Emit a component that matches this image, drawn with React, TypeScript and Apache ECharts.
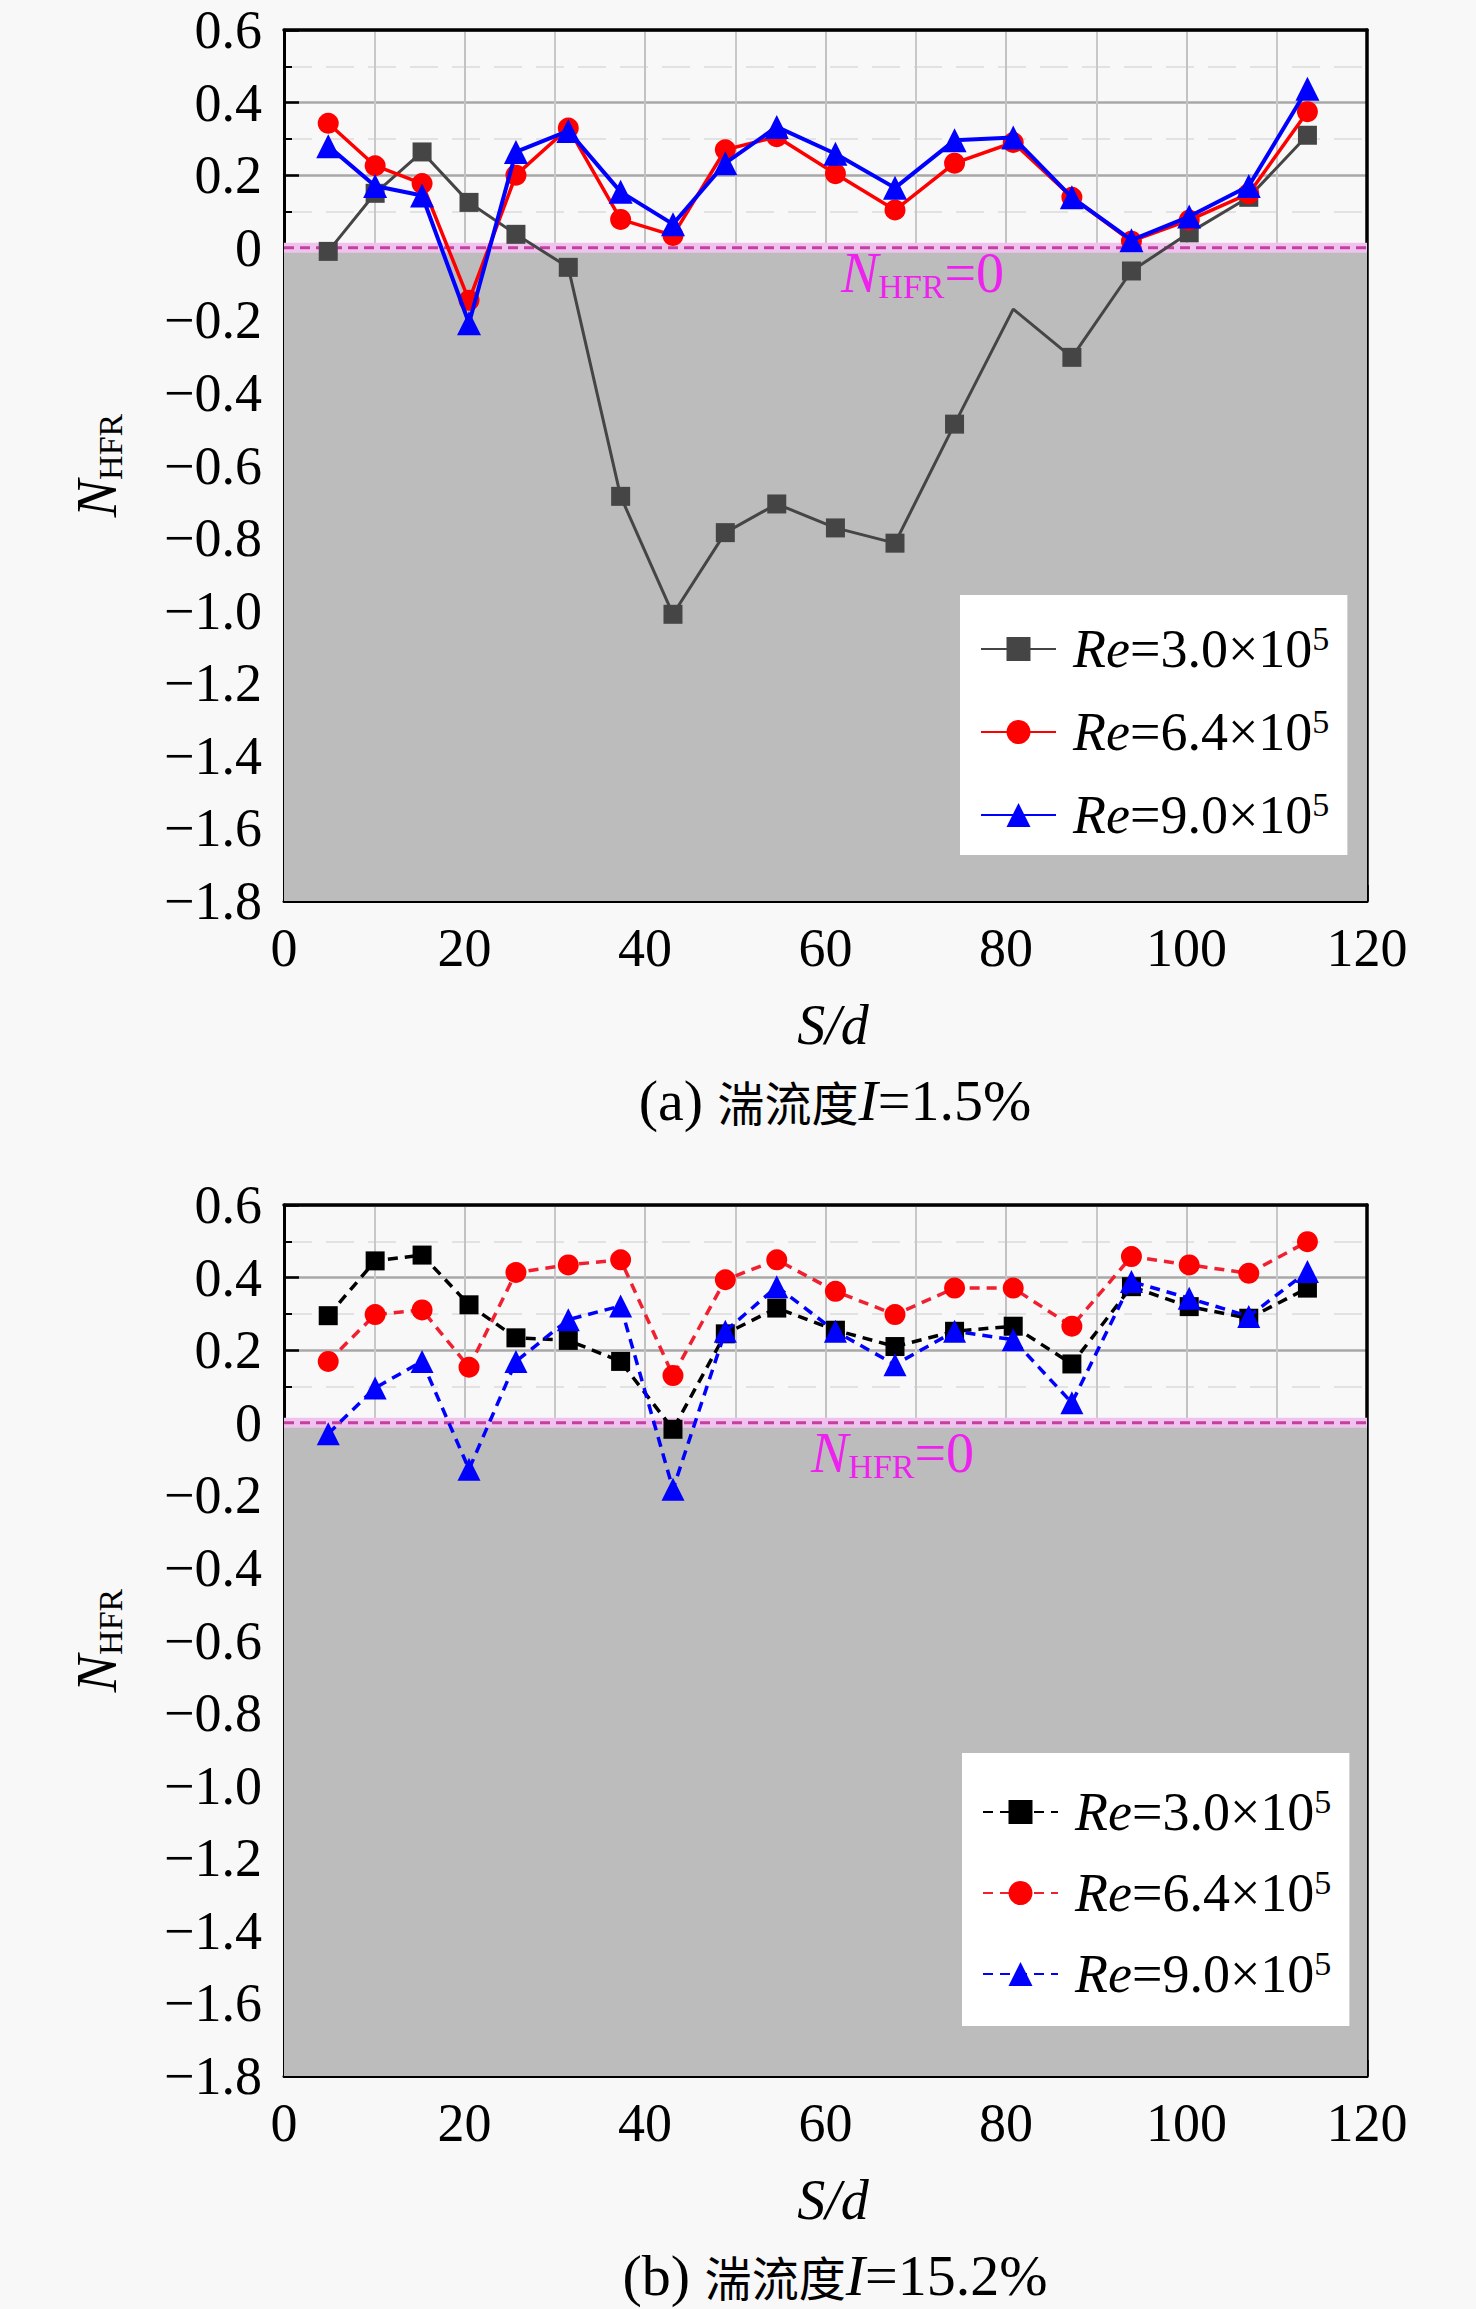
import React, { useEffect, useRef } from 'react';
import * as echarts from 'echarts';

// S/d positions of the measuring points
const xPos = [4.9, 10.1, 15.3, 20.5, 25.7, 31.5, 37.3, 43.1, 48.9, 54.6, 61.1, 67.7, 74.3, 80.8, 87.3, 93.9, 100.3, 106.9, 113.4];

// (a) I = 1.5%
const aRe30 = [-0.01, 0.15, 0.264, 0.125, 0.037, -0.054, -0.685, -1.01, -0.785, -0.706, -0.772, -0.814, -0.486, -0.169, -0.302, -0.064, 0.041, 0.139, 0.31];
const aRe64 = [0.343, 0.226, 0.177, -0.145, 0.2, 0.33, 0.078, 0.034, 0.27, 0.306, 0.204, 0.104, 0.233, 0.29, 0.139, 0.018, 0.076, 0.149, 0.375];
const aRe90 = [0.28, 0.17, 0.144, -0.208, 0.264, 0.322, 0.154, 0.065, 0.233, 0.333, 0.259, 0.165, 0.296, 0.304, 0.139, 0.021, 0.086, 0.17, 0.438];

// (b) I = 15.2%
const bRe30 = [0.295, 0.446, 0.462, 0.325, 0.234, 0.227, 0.169, -0.018, 0.245, 0.316, 0.255, 0.21, 0.252, 0.266, 0.162, 0.375, 0.32, 0.288, 0.371];
const bRe64 = [0.169, 0.298, 0.311, 0.153, 0.414, 0.435, 0.449, 0.13, 0.394, 0.449, 0.362, 0.298, 0.371, 0.371, 0.266, 0.458, 0.435, 0.412, 0.499];
const bRe90 = [-0.03, 0.096, 0.169, -0.128, 0.169, 0.284, 0.322, -0.183, 0.252, 0.375, 0.252, 0.16, 0.252, 0.229, 0.055, 0.389, 0.343, 0.293, 0.417];

const reLabels = ['3.0', '6.4', '9.0'];
const captions = ['(a) 湍流度', '(b) 湍流度'];
const intensities = ['1.5%', '15.2%'];

const X_MIN = 0;
const X_MAX = 120;
const X_STEP = 20;
const Y_MIN = -1.8;
const Y_MAX = 0.6;
const Y_STEP = 0.2;

const FONT = "'Liberation Serif', 'Times New Roman', 'Noto Sans CJK SC', serif";
const CJK = "'Noto Sans CJK SC', sans-serif";

const GRID_LEFT = 284;
const GRID_W = 1083;
const GRID_H = 871;
const GRID_TOPS = [30, 1205];

function yFmt(v: number): string {
  if (Math.abs(v) < 1e-9) return '0';
  const s = Math.abs(v).toFixed(1);
  return v < 0 ? '\u2212' + s : s;
}

function pts(arr: number[]) {
  return xPos.map((x, i) => [x, arr[i]]);
}

function axesFor(g: number) {
  const xs = [
    {
      type: 'value', gridIndex: g, min: X_MIN, max: X_MAX, interval: X_STEP, position: 'bottom',
      axisLine: { show: true, onZero: false, lineStyle: { color: '#000', width: 3 } },
      axisTick: { show: true, inside: true, length: 16, lineStyle: { color: '#000', width: 2.5 } },
      minorTick: { show: true, splitNumber: 2, length: 9, lineStyle: { color: '#000', width: 2 } },
      axisLabel: { show: true, margin: 20, fontSize: 54, fontFamily: FONT, color: '#000' },
      splitLine: { show: true, lineStyle: { color: '#c2c2c2', width: 2 } },
      minorSplitLine: { show: true, lineStyle: { color: '#c8c8c8', width: 2 } },
    },
    {
      type: 'value', gridIndex: g, min: X_MIN, max: X_MAX, position: 'top',
      axisLine: { show: true, onZero: false, lineStyle: { color: '#000', width: 3.5 } },
      axisTick: { show: false }, axisLabel: { show: false }, splitLine: { show: false },
    },
  ];
  const ys = [
    {
      type: 'value', gridIndex: g, min: Y_MIN, max: Y_MAX, interval: Y_STEP, position: 'left',
      axisLine: { show: true, onZero: false, lineStyle: { color: '#000', width: 3 } },
      axisTick: { show: true, inside: true, length: 15, lineStyle: { color: '#000', width: 2.5 } },
      minorTick: { show: true, splitNumber: 2, length: 8, lineStyle: { color: '#000', width: 2 } },
      axisLabel: { show: true, margin: 22, fontSize: 54, fontFamily: FONT, color: '#000', formatter: yFmt },
      splitLine: { show: true, lineStyle: { color: '#a8a8a8', width: 2.5 } },
      minorSplitLine: { show: true, lineStyle: { color: '#e2e2e2', width: 2, type: [28, 14] } },
    },
    {
      type: 'value', gridIndex: g, min: Y_MIN, max: Y_MAX, position: 'right',
      axisLine: { show: true, onZero: false, lineStyle: { color: '#000', width: 3.5 } },
      axisTick: { show: false }, axisLabel: { show: false }, splitLine: { show: false },
    },
  ];
  return { xs, ys };
}

function zeroSeries(ax: number) {
  return [
    {
      type: 'line', xAxisIndex: ax, yAxisIndex: ax, data: [], symbol: 'none', silent: true, z: 2,
      markArea: {
        silent: true,
        itemStyle: { color: '#bcbcbc', opacity: 1 },
        data: [[{ yAxis: Y_MIN }, { yAxis: 0 }]],
      },
    },
    {
      type: 'line', xAxisIndex: ax, yAxisIndex: ax, data: [[X_MIN, 0], [X_MAX, 0]], symbol: 'none', silent: true, z: 3,
      lineStyle: { color: '#efc3ee', width: 10 },
    },
    {
      type: 'line', xAxisIndex: ax, yAxisIndex: ax, data: [[X_MIN, 0], [X_MAX, 0]], symbol: 'none', silent: true, z: 4,
      lineStyle: { color: '#c2409e', width: 3, type: [10, 6] },
    },
  ];
}

function legendFor(names: string[], left: number, top: number, padding: number[], gap: number) {
  return {
    data: names,
    orient: 'vertical',
    left, top,
    padding,
    itemGap: gap,
    itemWidth: 75,
    itemHeight: 30,
    backgroundColor: '#ffffff',
    selectedMode: false,
    z: 10,
    formatter: (name: string) => {
      const idx = Number(name[1]) - 1;
      return `{i|Re}=${reLabels[idx]}×10{s|5}`;
    },
    textStyle: {
      fontSize: 54, fontFamily: FONT, color: '#000', lineHeight: 56, padding: [0, 0, 0, 12],
      rich: {
        i: { fontStyle: 'italic', fontSize: 54, fontFamily: FONT, color: '#000', lineHeight: 56 },
        s: { fontSize: 34, fontFamily: FONT, color: '#000', lineHeight: 34, verticalAlign: 'top' },
      },
    },
  };
}

function textEl(x: number, y: number, text: string, rich: any, extra: any = {}) {
  return {
    type: 'text', x, y, z: 100, silent: true,
    ...extra,
    style: {
      text, rich, fill: '#000', fontFamily: FONT, fontSize: 56,
      align: 'center', verticalAlign: 'middle',
      ...(extra.style || {}),
    },
  };
}

export default function App() {
  const ref = useRef<HTMLDivElement>(null);
  useEffect(() => {
    if (!ref.current) return;
    const chart = echarts.init(ref.current, undefined, { renderer: 'svg' });
    const a = axesFor(0);
    const b = axesFor(1);

    const aBlack = pts(aRe30).map((p, i) => (i === 13 ? { value: p, symbol: 'none' } : p));

    const dash = [10, 7];
    const series: any[] = [
      ...zeroSeries(0),
      ...zeroSeries(2),
      { name: 'a1', type: 'line', xAxisIndex: 0, yAxisIndex: 0, data: aBlack, symbol: 'rect', symbolSize: 19, z: 5,
        lineStyle: { color: '#454545', width: 3 }, itemStyle: { color: '#454545' } },
      { name: 'a2', type: 'line', xAxisIndex: 0, yAxisIndex: 0, data: pts(aRe64), symbol: 'circle', symbolSize: 21, z: 6,
        lineStyle: { color: '#ff0000', width: 3.5 }, itemStyle: { color: '#ff0000' } },
      { name: 'a3', type: 'line', xAxisIndex: 0, yAxisIndex: 0, data: pts(aRe90), symbol: 'triangle', symbolSize: 24, z: 7,
        lineStyle: { color: '#0000ff', width: 4 }, itemStyle: { color: '#0000ff' } },
      { name: 'b1', type: 'line', xAxisIndex: 2, yAxisIndex: 2, data: pts(bRe30), symbol: 'rect', symbolSize: 19, z: 5,
        lineStyle: { color: '#000000', width: 3.5, type: dash }, itemStyle: { color: '#000000' } },
      { name: 'b2', type: 'line', xAxisIndex: 2, yAxisIndex: 2, data: pts(bRe64), symbol: 'circle', symbolSize: 21, z: 6,
        lineStyle: { color: '#f02030', width: 3.5, type: dash }, itemStyle: { color: '#ff0000' } },
      { name: 'b3', type: 'line', xAxisIndex: 2, yAxisIndex: 2, data: pts(bRe90), symbol: 'triangle', symbolSize: 23, z: 7,
        lineStyle: { color: '#0000ff', width: 3.5, type: dash }, itemStyle: { color: '#0000ff' } },
    ];

    const nameRich = {
      n: { fontStyle: 'italic', fontSize: 56, fontFamily: FONT, lineHeight: 60 },
      h: { fontSize: 34, fontFamily: FONT, lineHeight: 34, verticalAlign: 'bottom' },
    };
    const zeroRich = {
      n: { fontStyle: 'italic', fontSize: 56, fontFamily: FONT, lineHeight: 60, fill: '#ee22ee' },
      h: { fontSize: 34, fontFamily: FONT, lineHeight: 34, verticalAlign: 'bottom', fill: '#ee22ee' },
      e: { fontSize: 56, fontFamily: FONT, lineHeight: 60, fill: '#ee22ee' },
    };
    const capRich = {
      l: { fontSize: 58, fontFamily: FONT, lineHeight: 62 },
      c: { fontSize: 47, fontFamily: CJK, lineHeight: 62 },
      i: { fontSize: 58, fontFamily: FONT, fontStyle: 'italic', lineHeight: 62 },
    };

    const graphics: any[] = [];
    GRID_TOPS.forEach((top, k) => {
      const cy = top + GRID_H / 2;
      const bottom = top + GRID_H;
      graphics.push(textEl(97, cy, '{n|N}{h|HFR}', nameRich, { rotation: Math.PI / 2 }));
      graphics.push(textEl(833, bottom + 124, 'S/d', {}, { style: { fontStyle: 'italic' } }));
      const cap = captions[k];
      graphics.push(textEl(835, bottom + 199,
        `{l|${cap.slice(0, 4)}}{c|${cap.slice(4)}}{i|I}{l|=${intensities[k]}}`, capRich));
    });
    graphics.push(textEl(841, 273, '{n|N}{h|HFR}{e|=0}', zeroRich, { style: { align: 'left', fill: '#ee22ee' } }));
    graphics.push(textEl(811, 1453, '{n|N}{h|HFR}{e|=0}', zeroRich, { style: { align: 'left', fill: '#ee22ee' } }));

    chart.setOption({
      animation: false,
      backgroundColor: '#f8f8f8',
      grid: GRID_TOPS.map((top) => ({ left: GRID_LEFT, top, width: GRID_W, height: GRID_H, containLabel: false })),
      xAxis: [...a.xs, ...b.xs],
      yAxis: [...a.ys, ...b.ys],
      legend: [
        legendFor(['a1', 'a2', 'a3'], 960, 595, [26, 18, 12, 20], 27),
        legendFor(['b1', 'b2', 'b3'], 962, 1753, [31, 18, 24, 20], 25),
      ],
      series,
      graphic: graphics,
    });
    return () => chart.dispose();
  }, []);
  return <div ref={ref} style={{ position: 'absolute', left: 0, top: 0, width: 1476, height: 2309 }} />;
}
